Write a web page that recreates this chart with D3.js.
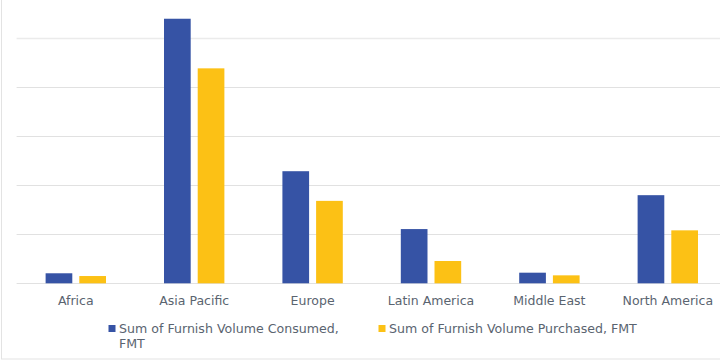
<!DOCTYPE html>
<html><head><meta charset="utf-8">
<script src="https://cdn.jsdelivr.net/npm/d3@7"></script>
<style>html,body{margin:0;padding:0;background:#fff;}svg{display:block;}</style>
</head><body>
<script>
const categories = ["Africa", "Asia Pacific", "Europe", "Latin America", "Middle East", "North America"];
const seriesNames = ["Sum of Furnish Volume Consumed, FMT", "Sum of Furnish Volume Purchased, FMT"];
const consumed = [10.2, 269.3, 114.1, 55.2, 10.8, 89.7];
const purchased = [7.4, 218.8, 83.9, 22.7, 8.1, 53.9];
const gridTicks = [0, 50, 100, 150, 200, 250];
const colors = ["#3653a5", "#fcc115"];

(function () {
const W = 720, H = 362;
const FONT = "DejaVu Sans, Verdana, sans-serif";
const TXT = "#5a6470";
const svg = d3.select("body").append("svg").attr("width", W).attr("height", H);

// outer chart border
svg.append("rect").attr("x", 1.5).attr("y", -2).attr("width", W + 4).attr("height", 362.5 - 1.5)
  .attr("fill", "none").attr("stroke", "#e3e3e3").attr("stroke-width", 1);

const pLeft = 16.6, pRight = 727, base = 283.3, pTop = 37.7;
const x = d3.scaleBand().domain(categories).range([pLeft, pRight]).paddingInner(0.49).paddingOuter(0.245);
const xs = d3.scaleBand().domain([0, 1]).range([0, x.bandwidth()]).paddingInner(0.208);
const y = d3.scaleLinear().domain([0, 250]).range([base, pTop]);

// gridlines
svg.append("g").selectAll("line").data(gridTicks).join("line")
  .attr("x1", pLeft).attr("x2", W)
  .attr("y1", d => Math.round(y(d)) + 0.5).attr("y2", d => Math.round(y(d)) + 0.5)
  .attr("stroke", d => d === 250 ? "#ebebeb" : "#e1e1e1")
  .attr("stroke-width", d => d === 250 ? 1.5 : 1);

const data = categories.map((c, i) => ({c, v: [consumed[i], purchased[i]]}));
const g = svg.append("g").selectAll("g").data(data).join("g")
  .attr("transform", d => `translate(${x(d.c)},0)`);
g.selectAll("rect").data(d => d.v.map((v, k) => ({v, k}))).join("rect")
  .attr("x", d => xs(d.k)).attr("width", xs.bandwidth())
  .attr("y", d => y(d.v)).attr("height", d => base - y(d.v))
  .attr("fill", d => colors[d.k]);

// x axis labels
const xAxis = d3.axisBottom(x).tickSize(0).tickPadding(12.8);
const ax = svg.append("g").attr("transform", `translate(0,${base})`).call(xAxis);
ax.select(".domain").remove();
ax.selectAll("text").attr("font-family", FONT)
  .attr("font-size", 12.5).attr("fill", TXT);

// legend
const leg = [
  {x: 108.5, lines: ["Sum of Furnish Volume Consumed,", "FMT"]},
  {x: 378.5, lines: ["Sum of Furnish Volume Purchased, FMT"]}
];
leg.forEach((l, i) => {
  svg.append("rect").attr("x", l.x).attr("y", 325).attr("width", 7).attr("height", 7).attr("fill", colors[i]);
  const t = svg.append("text").attr("x", l.x + 10.5).attr("y", 333)
    .attr("font-family", FONT).attr("font-size", 12.6).attr("fill", TXT);
  t.selectAll("tspan").data(l.lines).join("tspan")
    .attr("x", l.x + 10.5).attr("dy", (d, j) => j === 0 ? 0 : 15.3).text(d => d);
});
})();
</script>
</body></html>
